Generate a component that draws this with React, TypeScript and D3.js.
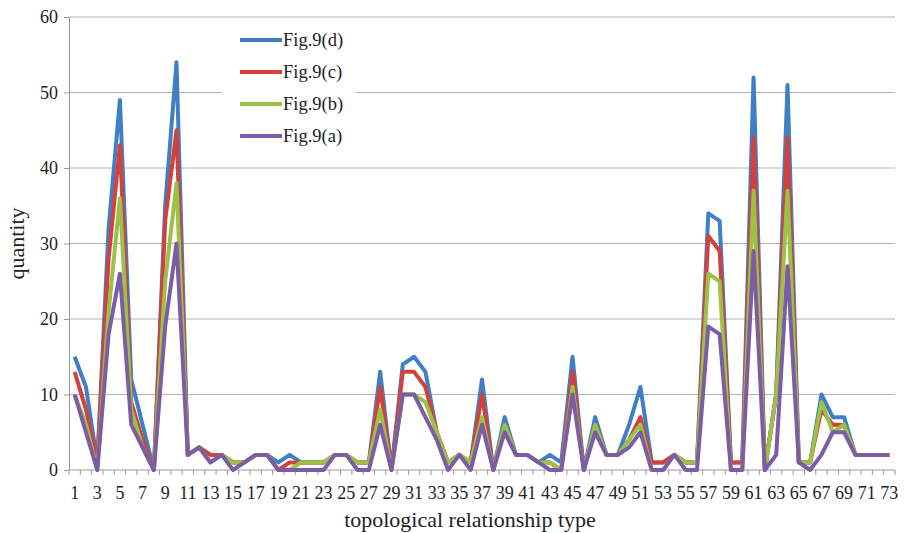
import React, { useEffect, useRef } from 'react';
import * as d3 from 'd3';

const types: number[] = d3.range(1, 74);

const fig9d = [15, 11, 1, 32, 49, 12, 6, 0, 35, 54, 2, 3, 2, 2, 1, 1, 2, 2, 1, 2, 1, 1, 1, 2, 2, 1, 1, 13, 0, 14, 15, 13, 5, 1, 2, 1, 12, 0, 7, 2, 2, 1, 2, 1, 15, 0, 7, 2, 2, 6, 11, 1, 1, 2, 1, 1, 34, 33, 1, 1, 52, 0, 10, 51, 1, 1, 10, 7, 7, 2, 2, 2, 2];
const fig9c = [13, 8, 1, 28, 43, 9, 4, 0, 33, 45, 2, 3, 2, 2, 1, 1, 2, 2, 0, 1, 1, 1, 1, 2, 2, 1, 1, 11, 0, 13, 13, 11, 5, 1, 2, 1, 10, 0, 6, 2, 2, 1, 1, 0, 13, 0, 6, 2, 2, 4, 7, 1, 1, 2, 1, 1, 31, 29, 1, 1, 44, 0, 10, 44, 1, 1, 8, 6, 6, 2, 2, 2, 2];
const fig9b = [10, 6, 0, 21, 36, 8, 3, 0, 25, 38, 2, 3, 1, 2, 1, 1, 2, 2, 0, 0, 1, 1, 1, 2, 2, 1, 1, 8, 0, 10, 10, 9, 5, 1, 2, 1, 7, 0, 6, 2, 2, 1, 1, 0, 11, 0, 6, 2, 2, 4, 6, 0, 0, 2, 1, 1, 26, 25, 0, 0, 37, 0, 10, 37, 1, 1, 9, 5, 6, 2, 2, 2, 2];
const fig9a = [10, 5, 0, 18, 26, 6, 3, 0, 19, 30, 2, 3, 1, 2, 0, 1, 2, 2, 0, 0, 0, 0, 0, 2, 2, 0, 0, 6, 0, 10, 10, 7, 4, 0, 2, 0, 6, 0, 5, 2, 2, 1, 0, 0, 10, 0, 5, 2, 2, 3, 5, 0, 0, 2, 0, 0, 19, 18, 0, 0, 29, 0, 2, 27, 1, 0, 2, 5, 5, 2, 2, 2, 2];

const seriesNames = ['Fig.9(d)', 'Fig.9(c)', 'Fig.9(b)', 'Fig.9(a)'];
const seriesColors = ['#3f7fc6', '#d2413c', '#9bc146', '#7d5ca6'];
const yTicks = [0, 10, 20, 30, 40, 50, 60];

const App: React.FC = () => {
  const ref = useRef<SVGSVGElement | null>(null);

  useEffect(() => {
    if (!ref.current) return;
    const svg = d3.select(ref.current);
    svg.selectAll('*').remove();

    const width = 905;
    const height = 533;
    const margin = { top: 17, right: 10, bottom: 63, left: 69 };
    const innerW = width - margin.left - margin.right;
    const innerH = height - margin.top - margin.bottom;
    const font = "'Liberation Serif', 'Times New Roman', 'DejaVu Serif', serif";

    svg.attr('width', width).attr('height', height).style('font-family', font);
    svg.append('rect').attr('width', width).attr('height', height).attr('fill', '#fff');

    const g = svg.append('g').attr('transform', `translate(${margin.left},${margin.top})`);

    const x = d3.scaleBand<number>().domain(types).range([0, innerW]).padding(0);
    const cx = (d: number) => (x(d) || 0) + x.bandwidth() / 2;
    const y = d3.scaleLinear().domain([0, 60]).range([innerH, 0]);

    // gridlines
    g.append('g')
      .selectAll('line')
      .data(yTicks.slice(1))
      .enter()
      .append('line')
      .attr('x1', 0)
      .attr('x2', innerW)
      .attr('y1', d => y(d))
      .attr('y2', d => y(d))
      .attr('stroke', '#b3b3b3')
      .attr('stroke-width', 1.2);

    // y axis
    const yAxis = g.append('g').call(d3.axisLeft(y).tickValues(yTicks).tickSize(5).tickPadding(6));
    yAxis.attr('font-family', null);
    yAxis.select('.domain').attr('stroke', '#999');
    yAxis.selectAll('.tick line').attr('stroke', '#999');
    yAxis.selectAll('text').style('font-family', font).attr('font-size', 18).attr('fill', '#222');

    // x axis: tick marks at category boundaries
    const xAxisG = g.append('g').attr('transform', `translate(0,${innerH})`);
    xAxisG.append('line').attr('x1', 0).attr('x2', innerW).attr('stroke', '#999').attr('stroke-width', 1.2);
    xAxisG.selectAll('line.tk')
      .data(types.concat([74]))
      .enter()
      .append('line')
      .attr('class', 'tk')
      .attr('x1', d => (d === 74 ? innerW : x(d) || 0))
      .attr('x2', d => (d === 74 ? innerW : x(d) || 0))
      .attr('y1', 0)
      .attr('y2', 5)
      .attr('stroke', '#999');
    xAxisG.selectAll('text')
      .data(types.filter(d => d % 2 === 1))
      .enter()
      .append('text')
      .attr('x', d => cx(d))
      .attr('y', 29)
      .attr('text-anchor', 'middle')
      .style('font-family', font)
      .attr('font-size', 18)
      .attr('fill', '#222')
      .text(d => String(d));

    // lines
    const allSeries = [fig9d, fig9c, fig9b, fig9a];
    const line = d3.line<number>().x((_, i) => cx(types[i])).y(d => y(d));
    allSeries.forEach((s, i) => {
      g.append('path')
        .datum(s)
        .attr('d', line)
        .attr('fill', 'none')
        .attr('stroke', seriesColors[i])
        .attr('stroke-width', 4)
        .attr('stroke-linejoin', 'round');
    });

    // legend
    const lg = svg.append('g').attr('transform', 'translate(222,24)');
    lg.append('rect').attr('width', 134).attr('height', 130).attr('fill', '#fff');
    seriesNames.forEach((name, i) => {
      const ly = 16 + i * 32;
      lg.append('line')
        .attr('x1', 18).attr('x2', 60)
        .attr('y1', ly).attr('y2', ly)
        .attr('stroke', seriesColors[i])
        .attr('stroke-width', 4);
      lg.append('text')
        .attr('x', 61).attr('y', ly + 6)
        .style('font-family', font)
        .attr('font-size', 18.5)
        .attr('fill', '#222')
        .text(name);
    });

    // axis titles
    svg.append('text')
      .attr('transform', `translate(24,${margin.top + innerH / 2}) rotate(-90)`)
      .attr('text-anchor', 'middle')
      .style('font-family', font)
      .attr('font-size', 22)
      .attr('fill', '#222')
      .text('quantity');
    svg.append('text')
      .attr('x', 470)
      .attr('y', 527)
      .attr('text-anchor', 'middle')
      .style('font-family', font)
      .attr('font-size', 22)
      .attr('fill', '#222')
      .text('topological relationship type');
  }, []);

  return <svg ref={ref} style={{ display: 'block', position: 'absolute', left: 0, top: 0 }} />;
};

export default App;
